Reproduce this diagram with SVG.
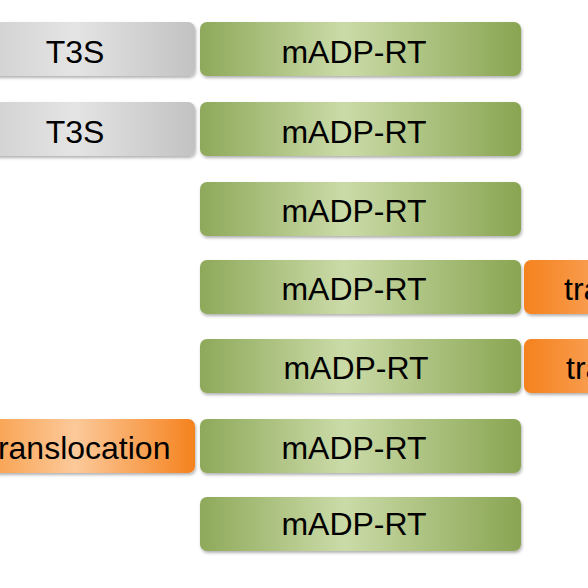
<svg xmlns="http://www.w3.org/2000/svg" width="588" height="588" viewBox="0 0 588 588">
<defs>
<linearGradient id="gGreen" x1="0" y1="0" x2="1" y2="0">
<stop offset="0" stop-color="#8ea95a"/>
<stop offset="0.45" stop-color="#cbdba8"/>
<stop offset="1" stop-color="#89a552"/>
</linearGradient>
<linearGradient id="gGray" x1="0" y1="0" x2="1" y2="0">
<stop offset="0" stop-color="#cbcbcb"/>
<stop offset="0.5" stop-color="#e4e4e4"/>
<stop offset="1" stop-color="#c2c2c2"/>
</linearGradient>
<linearGradient id="gOrange" x1="0" y1="0" x2="1" y2="0">
<stop offset="0" stop-color="#f7912f"/>
<stop offset="0.5" stop-color="#fcc99a"/>
<stop offset="1" stop-color="#f5821e"/>
</linearGradient>
<linearGradient id="gOrangeR" x1="0" y1="0" x2="1" y2="0">
<stop offset="0" stop-color="#f5821e"/>
<stop offset="0.35" stop-color="#f9a35a"/>
<stop offset="1" stop-color="#fcc99a"/>
</linearGradient>
<filter id="sh" x="-10%" y="-20%" width="120%" height="150%">
<feDropShadow dx="1" dy="2" stdDeviation="1.5" flood-color="#000" flood-opacity="0.3"/>
</filter>
</defs>
<style>
.g{fill:url(#gGreen);filter:url(#sh)}
.y{fill:url(#gGray);filter:url(#sh)}
.o{fill:url(#gOrange);filter:url(#sh)}
.or{fill:url(#gOrangeR);filter:url(#sh)}
text{font-family:"Liberation Sans",Arial,sans-serif;font-size:32px;fill:#000}
.c{text-anchor:middle}
</style>
<rect width="588" height="588" fill="#fff"/>
<g id="t3s1"><rect class="y" x="-45" y="22" width="240" height="54" rx="7"/><text class="c" x="75" y="63">T3S</text></g>
<g id="t3s2"><rect class="y" x="-45" y="102" width="240" height="54" rx="7"/><text class="c" x="75" y="143">T3S</text></g>
<g id="trans6"><rect class="o" x="-45" y="419" width="240" height="54" rx="7"/><text x="-11" y="459">translocation</text></g>
<g id="mad1"><rect class="g" x="200" y="22" width="321" height="54" rx="7"/><text class="c" x="354" y="63">mADP-RT</text></g>
<g id="mad2"><rect class="g" x="200" y="102" width="321" height="54" rx="7"/><text class="c" x="354" y="143">mADP-RT</text></g>
<g id="mad3"><rect class="g" x="200" y="182" width="321" height="54" rx="7"/><text class="c" x="354" y="222">mADP-RT</text></g>
<g id="mad4"><rect class="g" x="200" y="260" width="321" height="54" rx="7"/><text class="c" x="354" y="300">mADP-RT</text></g>
<g id="mad5"><rect class="g" x="200" y="339" width="321" height="54" rx="7"/><text class="c" x="356" y="379">mADP-RT</text></g>
<g id="mad6"><rect class="g" x="200" y="419" width="321" height="54" rx="7"/><text class="c" x="354" y="459">mADP-RT</text></g>
<g id="mad7"><rect class="g" x="200" y="497" width="321" height="54" rx="7"/><text class="c" x="354" y="535">mADP-RT</text></g>
<g id="trans4"><rect class="or" x="524" y="260" width="240" height="54" rx="7"/><text x="564" y="300">translocation</text></g>
<g id="trans5"><rect class="or" x="524" y="339" width="240" height="54" rx="7"/><text x="566" y="379">translocation</text></g>
<g id="connectors"></g>
</svg>
